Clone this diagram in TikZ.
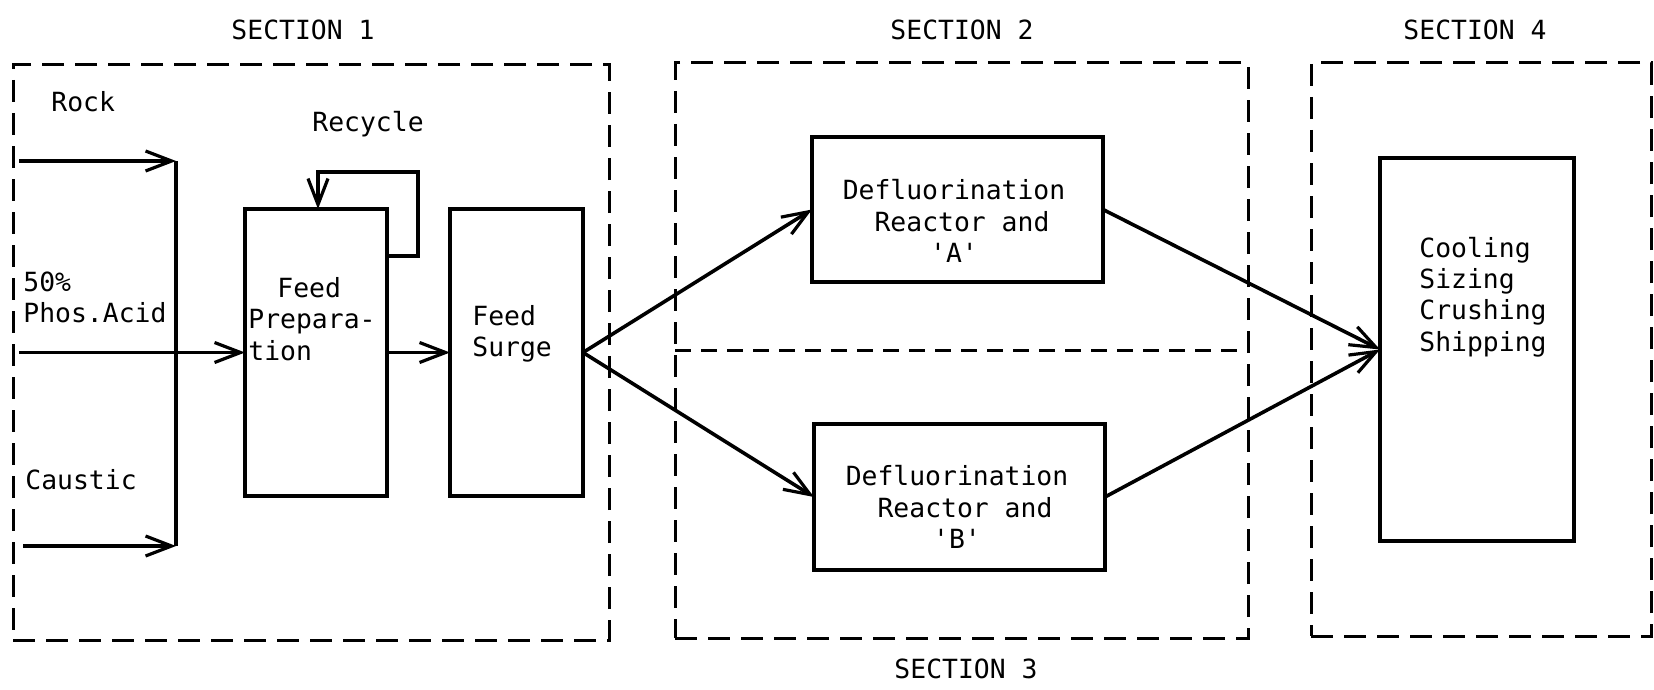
\documentclass[tikz,border=0pt]{standalone}
\usepackage{fontspec}
\setmonofont{DejaVu Sans Mono}
\usetikzlibrary{arrows.meta,calc}

\begin{document}
\begin{tikzpicture}[
  x=0.5pt, y=-0.5pt,
  font=\ttfamily\fontsize{13.2}{15.6}\selectfont,
  section/.style={draw, line width=1.5pt, dash pattern=on 11pt off 5.5pt,
    inner sep=0pt, outer sep=0pt},
  divider/.style={line width=1.5pt, dash pattern=on 8pt off 5pt},
  unit/.style={draw, line width=2pt, inner sep=0pt, outer sep=0pt},
  pipe/.style={line width=1.8pt},
  flow/.style={line width=1.8pt,
    -{Straight Barb[length=13pt,width=10pt,line width=1.6pt]}},
  txt/.style={inner sep=0pt, anchor=west, align=left},
  ctxt/.style={inner sep=0pt, align=center},
]
\useasboundingbox (0,0) rectangle (1654,690);

% section frames
\node[section, minimum width=298pt, minimum height=287.5pt] (sec1) at (311,352.5) {};
\node[section, minimum width=286.5pt, minimum height=287.5pt] (sec2) at (961.5,350.5) {};
\node[section, minimum width=170pt, minimum height=286.5pt] (sec4) at (1481,349.5) {};
\draw[divider] (sec2.west) -- (sec2.east);

% section titles
\node[ctxt] (t1) at (303,30) {SECTION 1};
\node[ctxt] (t2) at (962,30) {SECTION 2};
\node[ctxt] (t4) at (1475,30) {SECTION 4};
\node[ctxt] (t3) at (966,669) {SECTION 3};

% process units
\node[unit, minimum width=71pt, minimum height=143.5pt] (prep) at (316,352.5) {};
\node[unit, minimum width=66.5pt, minimum height=143.5pt] (surge) at (516.5,352.5) {};
\node[unit, minimum width=145.5pt, minimum height=72.5pt] (ra) at (957.5,209.5) {};
\node[unit, minimum width=145.5pt, minimum height=73pt] (rb) at (959.5,497) {};
\node[unit, minimum width=97pt, minimum height=191.5pt] (cool) at (1477,349.5) {};

% unit texts
\node[txt] (prepTxt) at (248,319) {\hspace*{14.5pt}Feed\\Prepara-\\tion};
\node[txt] (surgeTxt) at (472,334) {Feed\\Surge};
\node[ctxt] (raTxt) at (954,221) {Defluorination\\\hspace*{8pt}Reactor and\\'A'};
\node[ctxt] (rbTxt) at (957,507) {Defluorination\\\hspace*{8pt}Reactor and\\'B'};
\node[txt] (coolTxt) at (1419,297) {Cooling\\Sizing\\Crushing\\Shipping};

% feed stream labels
\node[txt] (rockTxt) at (51,102) {Rock};
\node[txt] (acidTxt) at (23,297) {50\%\\Phos.Acid};
\node[txt] (causticTxt) at (25,480) {Caustic};
\node[txt] (recycleTxt) at (312,124) {Recycle};

% raw material feeds
\coordinate (rockIn) at (19,161);
\coordinate (rockJ) at (176,161);
\coordinate (causIn) at (23,546);
\coordinate (causJ) at (176,546);
\coordinate (acidIn) at (19,352.5);
\draw[flow] (rockIn) -- (rockJ);
\draw[flow] (causIn) -- (causJ);
\draw[pipe] (rockJ) -- (causJ);
\draw[flow] (acidIn) -- (prep.west);

% recycle loop
\draw[flow] ($(prep.north east)+(0,47)$) -- ++(31,0) |- ($(prep.north)+(2,-37)$)
  -- ($(prep.north)+(2,0)$);

% main flow
\draw[flow] (prep.east) -- (surge.west);
\draw[flow] (surge.east) -- (ra.west);
\draw[flow] (surge.east) -- (rb.west);
\draw[flow] (ra.east) -- (cool.west);
\draw[flow] (rb.east) -- (cool.west);
\end{tikzpicture}
\end{document}
